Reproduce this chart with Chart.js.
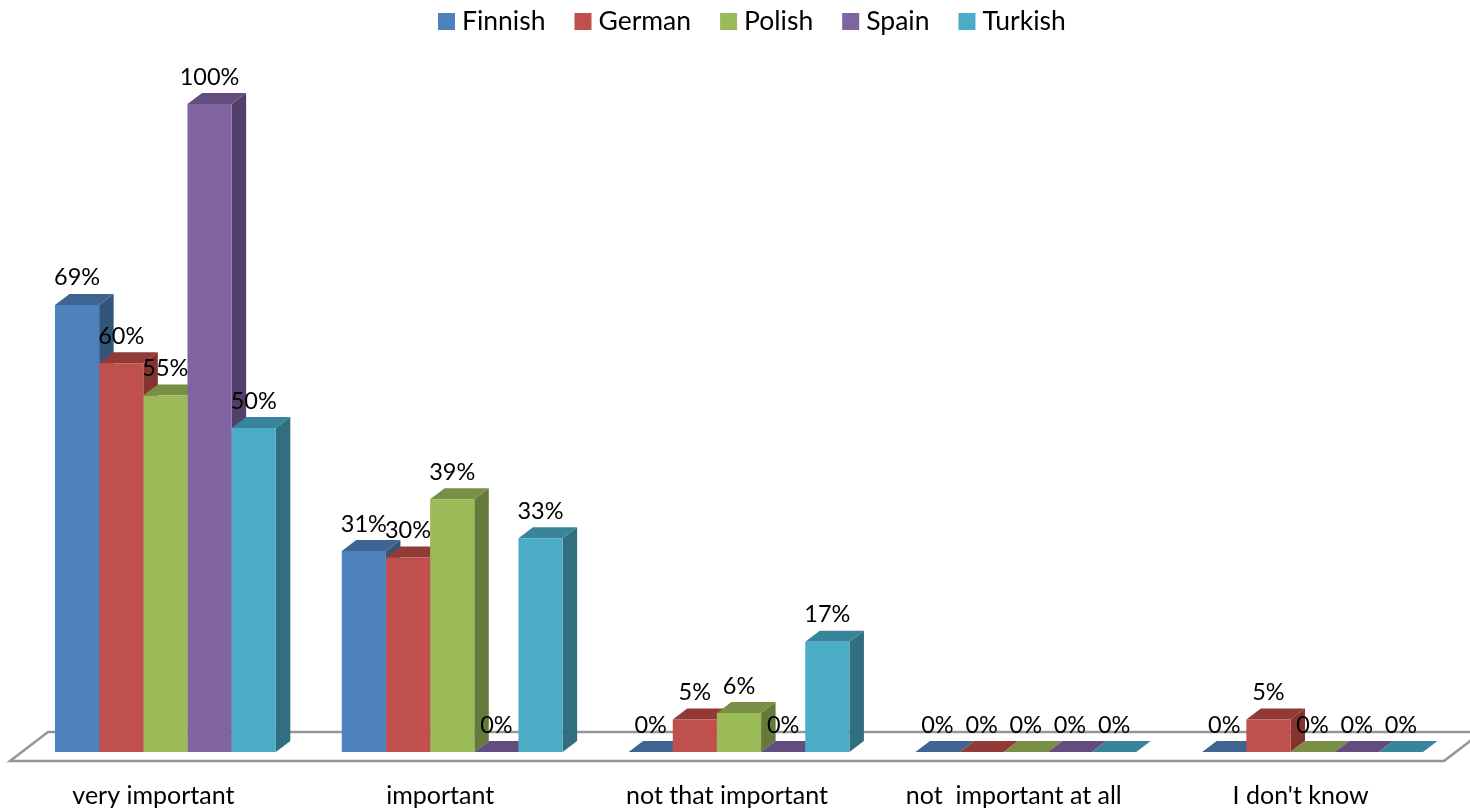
<!DOCTYPE html>
<html>
<head>
<meta charset="utf-8">
<title>Importance by nationality</title>
<script src="https://cdn.jsdelivr.net/npm/chart.js@4"></script>
<style>
    html, body { margin: 0; padding: 0; background: #fff; overflow: hidden; }
    canvas { display: block; }
</style>
</head>
<body>
<canvas id="chart" width="1470" height="809"></canvas>
<script>
// 카테고리 + 시리즈 값 (%)
const categories = ["very important", "important", "not that important", "not  important at all", "I don't know"];
const seriesNames = ["Finnish", "German", "Polish", "Spain", "Turkish"];
const finnish = [69, 31, 0, 0, 0];
const german = [60, 30, 5, 0, 5];
const polish = [55, 39, 6, 0, 0];
const spain = [100, 0, 0, 0, 0];
const turkish = [50, 33, 17, 0, 0];

// face / top / side colours per series
const faceColors = ["#4F81BD", "#C0504D", "#9BBB59", "#8064A2", "#4BACC6"];
const topColors = ["#3E6591", "#923A38", "#788F45", "#634D7E", "#38859B"];
const sideColors = ["#335579", "#853331", "#65793A", "#533F6B", "#316F80"];

const FONT = "Lato, 'Open Sans', sans-serif";
const DEPTH_X = 14.5;
const DEPTH_Y = 11;

function poly(ctx, pts, color) {
    ctx.fillStyle = color;
    ctx.beginPath();
    pts.forEach((p, i) => (i ? ctx.lineTo(p[0], p[1]) : ctx.moveTo(p[0], p[1])));
    ctx.closePath();
    ctx.fill();
}

// 바닥 + 막대 옆면/윗면 (앞면은 Chart.js가 그림)
const bars3d = {
    id: "bars3d",
    beforeDatasetsDraw(chart) {
        const { ctx, chartArea: a } = chart;
        ctx.save();
        ctx.strokeStyle = "#969696";
        ctx.lineWidth = 2.5;
        ctx.beginPath();
        ctx.moveTo(a.left - 12, a.bottom + 9);
        ctx.lineTo(a.left + 26, a.bottom - 20);
        ctx.lineTo(a.right + 26, a.bottom - 20);
        ctx.lineTo(a.right - 12, a.bottom + 9);
        ctx.closePath();
        ctx.stroke();

        categories.forEach((_, c) => {
            seriesNames.forEach((_, s) => {
                const el = chart.getDatasetMeta(s).data[c];
                const l = el.x - el.width / 2;
                const r = el.x + el.width / 2;
                if (el.base > el.y) {
                    poly(ctx, [[r, el.y], [r + DEPTH_X, el.y - DEPTH_Y], [r + DEPTH_X, el.base - DEPTH_Y], [r, el.base]], sideColors[s]);
                }
                poly(ctx, [[l, el.y], [l + DEPTH_X, el.y - DEPTH_Y], [r + DEPTH_X, el.y - DEPTH_Y], [r, el.y]], topColors[s]);
            });
        });
        ctx.restore();
    },
    afterDatasetsDraw(chart) {
        const { ctx } = chart;
        ctx.save();
        ctx.fillStyle = "#000";
        ctx.font = "23.5px " + FONT;
        ctx.textAlign = "center";
        ctx.textBaseline = "middle";
        chart.data.datasets.forEach((ds, s) => {
            chart.getDatasetMeta(s).data.forEach((el, c) => {
                ctx.fillText(ds.data[c] + "%", el.x, el.y - 27);
            });
        });
        ctx.restore();
    },
};

// 범례: 상자-글자 간격이 좁아서 내장 legend 대신 직접 그림
const topLegend = {
    id: "topLegend",
    afterDraw(chart) {
        const { ctx } = chart;
        let x = 438;
        ctx.save();
        ctx.font = "26.5px " + FONT;
        ctx.textBaseline = "middle";
        seriesNames.forEach((name, i) => {
            ctx.fillStyle = faceColors[i];
            ctx.fillRect(x, 13, 17, 17);
            ctx.fillStyle = "#000";
            ctx.fillText(name, x + 24, 21);
            x += 24 + ctx.measureText(name).width + 29;
        });
        ctx.restore();
    },
};

const seriesValues = [finnish, german, polish, spain, turkish];

new Chart(document.getElementById("chart").getContext("2d"), {
    type: "bar",
    data: {
        labels: categories,
        datasets: seriesNames.map((name, i) => ({
            label: name,
            data: seriesValues[i],
            backgroundColor: faceColors[i],
            borderWidth: 0,
            categoryPercentage: 0.77,
            barPercentage: 1,
        })),
    },
    options: {
        responsive: false,
        animation: false,
        layout: { padding: { left: 22, right: 14, top: 104, bottom: 0 } },
        scales: {
            x: {
                grid: { display: false },
                border: { display: false },
                afterFit: (scale) => { scale.height = 57; },
                ticks: {
                    color: "#000",
                    font: { family: FONT, size: 25 },
                    padding: 21,
                    labelOffset: -12,
                    maxRotation: 0,
                    autoSkip: false,
                },
            },
            y: {
                display: false,
                min: 0,
                max: 100,
            },
        },
        plugins: {
            legend: { display: false },
            tooltip: { enabled: false },
        },
    },
    plugins: [bars3d, topLegend],
});
</script>
</body>
</html>
